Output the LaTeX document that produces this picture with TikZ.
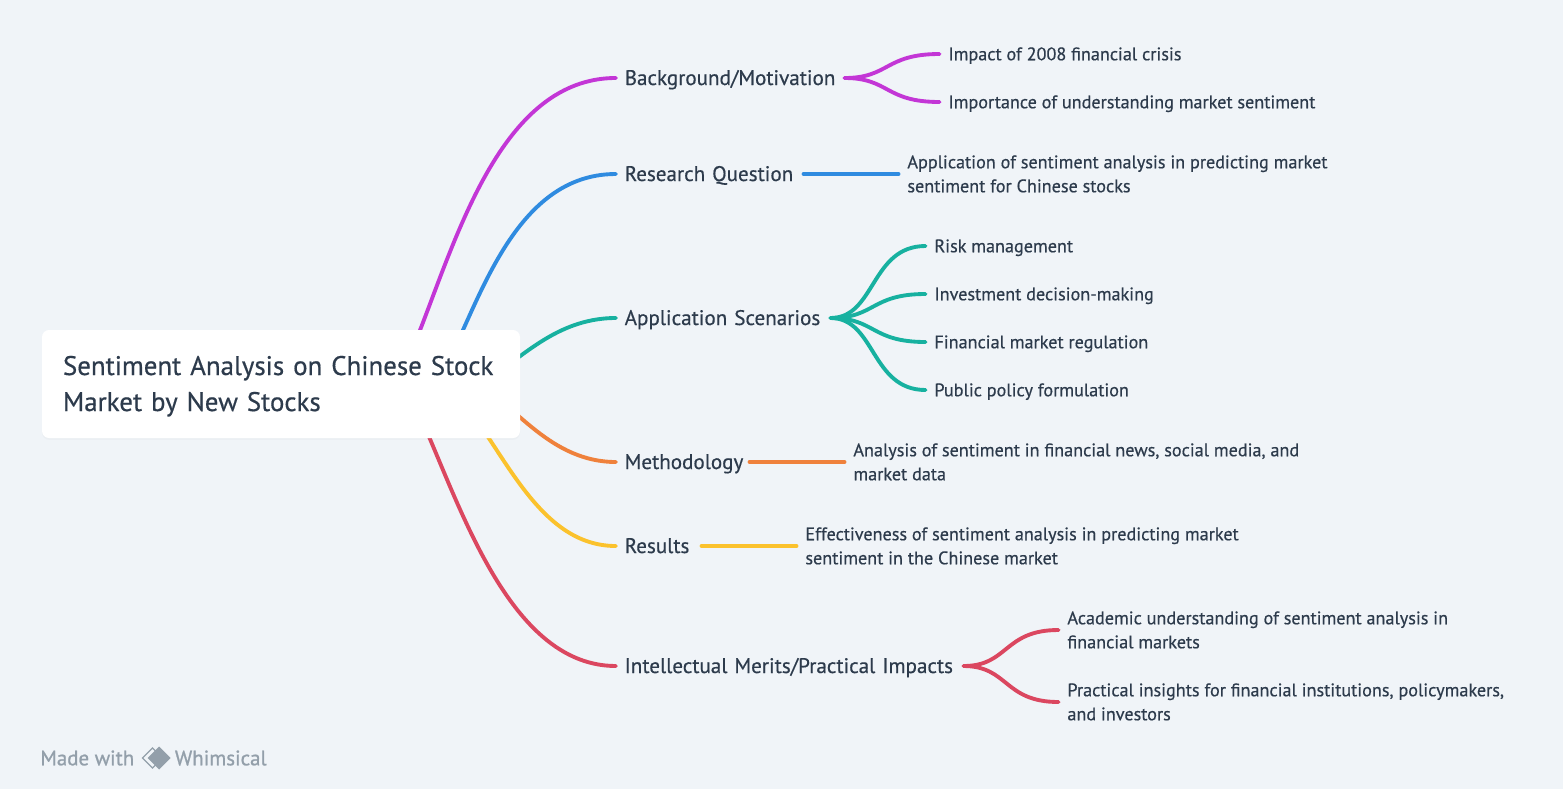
\documentclass[tikz,border=0pt]{standalone}
\usepackage{fontspec}
\setmainfont[FakeBold=0.5]{PT Sans}
\usetikzlibrary{shapes.geometric,positioning,backgrounds,shadows}
\definecolor{mapbg}{HTML}{F0F4F8}
\definecolor{mapink}{HTML}{2D3B4C}
\definecolor{mapgrey}{HTML}{939FAA}
\definecolor{mappurple}{HTML}{C336D6}
\definecolor{mapblue}{HTML}{2F8BE0}
\definecolor{mapteal}{HTML}{17B1A0}
\definecolor{maporange}{HTML}{EF813C}
\definecolor{mapyellow}{HTML}{FBC22D}
\definecolor{mapred}{HTML}{DB4760}

\begin{document}
\begin{tikzpicture}[
    rootbox/.style={fill=white, rounded corners=4pt, minimum width=9.54cm, minimum height=2.16cm, inner xsep=0.42cm, text width=8.72cm, align=left, text=mapink, text height=0.2cm, text depth=0.56cm, drop shadow={shadow xshift=0pt, shadow yshift=-1pt, opacity=0.04}, font=\fontsize{15.3}{20.5}\selectfont},
    topic/.style={inner xsep=0.17cm, inner ysep=0pt, text width=#1, align=left, text=mapink, text height=0.36cm, text depth=0.08cm, font=\fontsize{12}{14}\selectfont},
    leaf/.style={inner xsep=0.17cm, inner ysep=0pt, align=left, text=mapink, text height=0.32cm, text depth=0.07cm, font=\fontsize{10.34}{13.66}\selectfont},
    leaftwo/.style={leaf, text height=0.8cm},
    link/.style={line width=2.2pt, line cap=round},
    footer/.style={inner sep=0pt, text=mapgrey, font=\fontsize{11.9}{14}\selectfont\addfontfeature{FakeBold=1}},
    logomark/.style={diamond, inner sep=0pt, outer sep=0pt},
    node distance=1.9cm
]
\useasboundingbox (0,0) rectangle (31.26,-15.78);

\node[rootbox] (root) at (5.62,-7.68) {Sentiment Analysis on Chinese Stock\\Market by New Stocks};

\node[topic=4.22cm, right=1.91cm of root, yshift=6.12cm] (motiv) {Background/Motivation};
\node[topic=3.4cm, right=1.91cm of root, yshift=4.2cm] (question) {Research Question};
\node[topic=3.94cm, right=1.91cm of root, yshift=1.32cm] (scen) {Application Scenarios};
\node[topic=2.32cm, right=1.91cm of root, yshift=-1.56cm] (method) {Methodology};
\node[topic=1.36cm, right=1.91cm of root, yshift=-3.24cm] (results) {Results};
\node[topic=6.6cm, right=1.91cm of root, yshift=-5.64cm] (merits) {Intellectual Merits/Practical Impacts};

\node[leaf, right=of motiv, yshift=0.48cm] (motiv1) {Impact of 2008 financial crisis};
\node[leaf, right=of motiv, yshift=-0.48cm] (motiv2) {Importance of understanding market sentiment};
\node[leaftwo, right=of question] (question1) {Application of sentiment analysis in predicting market\\sentiment for Chinese stocks};
\node[leaf, right=of scen, yshift=1.44cm] (scen1) {Risk management};
\node[leaf, right=of scen, yshift=0.48cm] (scen2) {Investment decision-making};
\node[leaf, right=of scen, yshift=-0.48cm] (scen3) {Financial market regulation};
\node[leaf, right=of scen, yshift=-1.44cm] (scen4) {Public policy formulation};
\node[leaftwo, right=of method] (method1) {Analysis of sentiment in financial news, social media, and\\market data};
\node[leaftwo, right=of results] (results1) {Effectiveness of sentiment analysis in predicting market\\sentiment in the Chinese market};
\node[leaftwo, right=of merits, yshift=0.72cm] (merits1) {Academic understanding of sentiment analysis in\\financial markets};
\node[leaftwo, right=of merits, yshift=-0.72cm] (merits2) {Practical insights for financial institutions, policymakers,\\and investors};

% links run under the root box
\begin{scope}[on background layer]
\fill[mapbg] (0,0) rectangle (31.26,-15.78);
\draw[link, mappurple] (root.center) ++(2.3,0) .. controls +(0.94,1.68) and +(-2.7,0) .. (motiv.west);
\draw[link, mapblue] (root.center) ++(3.1,0) .. controls +(0.76,1.18) and +(-2.2,0) .. (question.west);
\draw[link, mapteal] (root.center) ++(3.94,0) .. controls +(0.74,0.34) and +(-1.3,0) .. (scen.west);
\draw[link, maporange] (root.center) ++(3.94,0) .. controls +(0.74,-0.42) and +(-1.3,0) .. (method.west);
\draw[link, mapyellow] (root.center) ++(3.3,0) .. controls +(1.04,-0.92) and +(-1.7,0) .. (results.west);
\draw[link, mapred] (root.center) ++(2.46,0) .. controls +(0.9,-1.56) and +(-2.4,0) .. (merits.west);

\foreach \kid in {motiv1,motiv2}
  \draw[link, mappurple] (motiv.east) .. controls +(0.9,0) and +(-1.1,0) .. (\kid.west);
\draw[link, mapblue] (question.east) -- (question1.west);
\foreach \kid in {scen1,scen2,scen3,scen4}
  \draw[link, mapteal] (scen.east) .. controls +(0.9,0) and +(-1.1,0) .. (\kid.west);
\draw[link, maporange] (method.east) -- (method1.west);
\draw[link, mapyellow] (results.east) -- (results1.west);
\foreach \kid in {merits1,merits2}
  \draw[link, mapred] (merits.east) .. controls +(0.9,0) and +(-1.1,0) .. (\kid.west);
\end{scope}

% footer
\node[footer, anchor=west] (made) at (0.8,-15.16) {Made with};
\node[logomark, draw=mapgrey, line width=0.7pt, minimum size=0.4cm, right=0.16cm of made] (logoback) {};
\node[logomark, fill=mapgrey, minimum size=0.46cm, right=-0.3cm of logoback] (logofront) {};
\node[footer, right=0.08cm of logofront] (whim) {Whimsical};
\end{tikzpicture}
\end{document}
